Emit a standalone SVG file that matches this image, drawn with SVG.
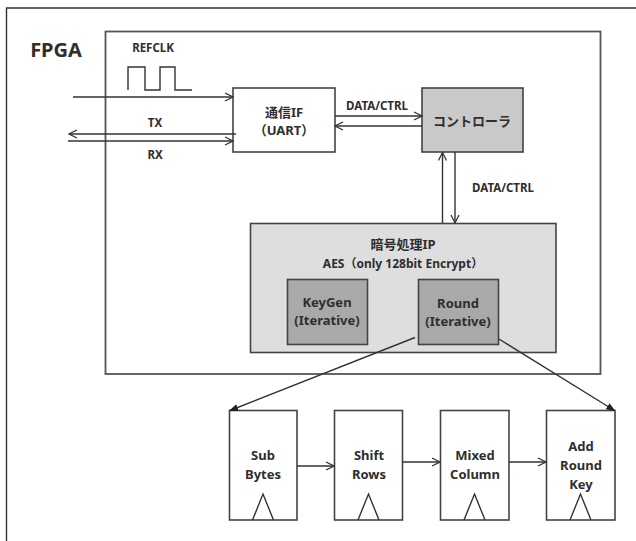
<svg xmlns="http://www.w3.org/2000/svg" width="636" height="541" viewBox="0 0 636 541">
<style>
text{font-family:"Noto Sans","Noto Sans CJK JP","Liberation Sans",sans-serif;font-weight:bold;fill:#2e2e2e;text-anchor:middle}
.box{stroke:#444;stroke-width:1.6}
.ln{stroke:#333;stroke-width:1.4;fill:none}
.lbl{font-size:11.5px}
.bl{font-size:13px}
</style>
<defs>
<marker id="open" viewBox="0 0 10 10" refX="9" refY="5" markerWidth="10" markerHeight="10" markerUnits="userSpaceOnUse" orient="auto">
<path d="M1,1 L9,5 L1,9" fill="none" stroke="#333" stroke-width="1.3"/>
</marker>
<marker id="fill" viewBox="0 0 10 10" refX="9" refY="5" markerWidth="9" markerHeight="9" markerUnits="userSpaceOnUse" orient="auto">
<path d="M0,1 L10,5 L0,9 Z" fill="#222"/>
</marker>
</defs>
<rect width="636" height="541" fill="#fff"/>
<g id="frame">
<path d="M6.5,541 V8 H636" fill="none" stroke="#333" stroke-width="1.4"/>
<text x="56" y="57" style="font-size:20px">FPGA</text>
</g>
<g id="fpga">
<rect x="105.5" y="31.5" width="495" height="342.5" fill="#fff" stroke="#555" stroke-width="1.8"/>
</g>
<g id="refclk">
<text class="lbl" x="153" y="52">REFCLK</text>
<path class="ln" d="M128,90 V67 H145 V90 H160 V67 H175 V90 H192"/>
</g>
<g id="uart">
<rect class="box" x="233" y="88" width="102" height="64" fill="#fff"/>
<text class="bl" x="284" y="117">通信IF</text>
<text class="bl" x="284" y="135">（UART）</text>
</g>
<g id="controller">
<rect class="box" x="422" y="88" width="101" height="64" fill="#c9c9c9"/>
<text class="bl" x="472" y="126">コントローラ</text>
</g>
<g id="aesip">
<rect class="box" x="250.5" y="223.5" width="305.5" height="129" fill="#dedede"/>
<text class="bl" x="403" y="249">暗号処理IP</text>
<text class="bl" x="403" y="268" style="font-size:12px">AES（only 128bit Encrypt）</text>
</g>
<g id="keygen">
<rect class="box" x="287.5" y="279.5" width="80" height="65" fill="#a9a9a9"/>
<text class="bl" x="327" y="307">KeyGen</text>
<text class="bl" x="327" y="325">(Iterative)</text>
</g>
<g id="round">
<rect class="box" x="418.5" y="279.5" width="80" height="65" fill="#a9a9a9"/>
<text class="bl" x="458" y="308">Round</text>
<text class="bl" x="458" y="326">(Iterative)</text>
</g>
<g id="subbytes">
<rect class="box" x="229.5" y="410.5" width="67.5" height="109.5" fill="#fff"/>
<text class="bl" x="263" y="460">Sub</text>
<text class="bl" x="263" y="479">Bytes</text>
<path class="ln" d="M252.5,520 L263,494 L273.5,520"/>
</g>
<g id="shiftrows">
<rect class="box" x="334.5" y="410.5" width="68" height="109.5" fill="#fff"/>
<text class="bl" x="369" y="460">Shift</text>
<text class="bl" x="369" y="479">Rows</text>
<path class="ln" d="M358,520 L368.5,494 L379,520"/>
</g>
<g id="mixedcolumn">
<rect class="box" x="440.5" y="410.5" width="68.5" height="109.5" fill="#fff"/>
<text class="bl" x="475" y="460">Mixed</text>
<text class="bl" x="475" y="479">Column</text>
<path class="ln" d="M464,520 L474.5,494 L485,520"/>
</g>
<g id="addroundkey">
<rect class="box" x="546.5" y="410.5" width="68.5" height="109.5" fill="#fff"/>
<text class="bl" x="581" y="451">Add</text>
<text class="bl" x="581" y="470">Round</text>
<text class="bl" x="581" y="489">Key</text>
<path class="ln" d="M570,520 L580.5,494 L591,520"/>
</g>
<g id="connectors">
<line class="ln" x1="73" y1="97" x2="233" y2="97" marker-end="url(#open)"/>
<line class="ln" x1="236" y1="134" x2="69" y2="134" marker-end="url(#open)"/>
<line class="ln" x1="68" y1="141" x2="233" y2="141" marker-end="url(#open)"/>
<text class="lbl" x="155" y="127">TX</text>
<text class="lbl" x="155" y="159">RX</text>
<line class="ln" x1="335" y1="116" x2="422" y2="116" marker-end="url(#open)"/>
<line class="ln" x1="422" y1="126" x2="335" y2="126" marker-end="url(#open)"/>
<text class="lbl" x="377" y="110">DATA/CTRL</text>
<line class="ln" x1="442.5" y1="223" x2="442.5" y2="152.5" marker-end="url(#open)"/>
<line class="ln" x1="455" y1="152" x2="455" y2="223" marker-end="url(#open)"/>
<text class="lbl" x="503" y="192">DATA/CTRL</text>
<line class="ln" x1="415" y1="337.5" x2="230" y2="410.5" marker-end="url(#fill)"/>
<line class="ln" x1="499" y1="339" x2="614.5" y2="410.5" marker-end="url(#fill)"/>
<line class="ln" x1="297" y1="466" x2="334" y2="466" marker-end="url(#open)"/>
<line class="ln" x1="402.5" y1="462" x2="440" y2="462" marker-end="url(#open)"/>
<line class="ln" x1="509" y1="462" x2="546" y2="462" marker-end="url(#open)"/>
</g>
</svg>
